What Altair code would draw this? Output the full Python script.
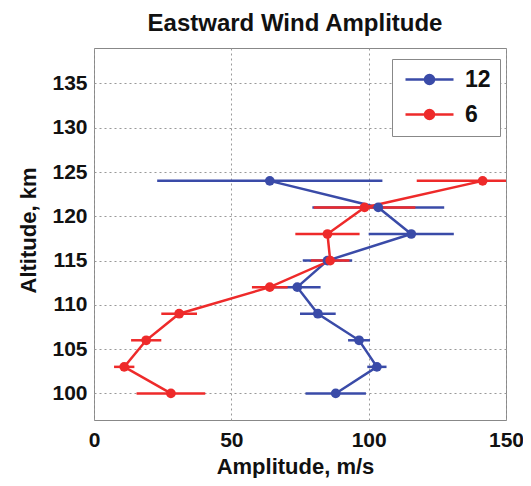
import altair as alt
import pandas as pd

altitude = [100, 103, 106, 109, 112, 115, 118, 121, 124]
amp_12 = [88, 103, 96.5, 81.5, 74, 85, 115.5, 103.5, 64]
err_12 = [11, 3.5, 4, 6.5, 8.5, 9, 15.5, 24, 41]
amp_6 = [28, 11, 19, 31, 64, 86, 85, 98.5, 141.5]
err_6 = [12.5, 3.7, 5.5, 6.5, 6.5, 7, 11.7, 18.5, 24]
series_names = ["12", "6"]
x_ticks = [0, 50, 100, 150]
y_ticks = [100, 105, 110, 115, 120, 125, 130, 135]

BLUE = "#3a4ba8"
RED = "#ee2a2a"
FONT = "Liberation Sans"

rows = []
for name, amps, errs in [("12", amp_12, err_12), ("6", amp_6, err_6)]:
    for a, v, e in zip(altitude, amps, errs):
        rows.append({"series": name, "alt": a, "amp": v, "lo": v - e, "hi": v + e})
df = pd.DataFrame(rows)

color = alt.Color(
    "series:N",
    scale=alt.Scale(domain=series_names, range=[BLUE, RED]),
    legend=alt.Legend(
        title=None,
        orient="none",
        legendX=298,
        legendY=11,
        padding=9,
        rowPadding=11,
        fillColor="white",
        strokeColor="#888888",
        symbolType="M-4.8,0L4.8,0M-0.9,0A0.9,0.9,0,1,0,0.9,0A0.9,0.9,0,1,0,-0.9,0Z",
        symbolSize=100,
        symbolStrokeWidth=2.5,
        symbolOpacity=1,
        symbolOffset=17,
        labelOffset=24,
        labelFont=FONT,
        labelFontSize=23,
        labelFontWeight="bold",
        labelColor="#111111",
        labelBaseline="middle",
    ),
)

x_scale = alt.Scale(domain=[0, 150], nice=False, zero=False)
y_scale = alt.Scale(domain=[97, 139], nice=False, zero=False)

x_axis = alt.Axis(
    values=x_ticks,
    title="Amplitude, m/s",
    titleX=201,
    titleY=53,
    titleBaseline="alphabetic",
    titleAlign="center",
    labelPadding=9,
    labelFlush=False,
)
y_axis = alt.Axis(
    values=y_ticks,
    title="Altitude, km",
    titleX=-59,
    titleY=182,
    titleAngle=270,
    titleBaseline="alphabetic",
    titleAlign="center",
    labelPadding=7,
    labelFlush=False,
)

base = alt.Chart(df)
line = base.mark_line(strokeWidth=2.5).encode(
    x=alt.X("amp:Q", scale=x_scale, axis=x_axis),
    y=alt.Y("alt:Q", scale=y_scale, axis=y_axis),
    color=color,
    order=alt.Order("alt:Q"),
)
rules = base.mark_rule(strokeWidth=2.5, clip=True).encode(
    x=alt.X("lo:Q", scale=x_scale, axis=x_axis),
    x2="hi:Q",
    y=alt.Y("alt:Q", scale=y_scale, axis=y_axis),
    color=color,
)
pts = base.mark_point(filled=True, size=95, opacity=1).encode(
    x=alt.X("amp:Q", scale=x_scale, axis=x_axis),
    y=alt.Y("alt:Q", scale=y_scale, axis=y_axis),
    color=color,
)

chart = (
    alt.layer(rules, line, pts)
    .properties(
        width=412,
        height=372,
        autosize=alt.AutoSizeParams(type="none"),
        padding={"left": 86, "top": 40, "right": 17, "bottom": 58},
        title=alt.TitleParams(
            "Eastward Wind Amplitude",
            font=FONT,
            fontSize=24,
            fontWeight="bold",
            color="#111111",
            anchor="middle",
            offset=12,
            dx=-5,
        ),
    )
    .configure_view(stroke="#888888", strokeWidth=1)
    .configure_axis(
        domain=False,
        ticks=False,
        tickSize=0,
        grid=True,
        gridColor="#999999",
        gridDash=[2, 3],
        gridWidth=1,
        labelFont=FONT,
        labelFontSize=21,
        labelFontWeight="bold",
        labelColor="#111111",
        titleFont=FONT,
        titleFontSize=22,
        titleFontWeight="bold",
        titleColor="#111111",
    )
)

chart.save("out.html", embed_options={"renderer": "svg", "actions": False})
